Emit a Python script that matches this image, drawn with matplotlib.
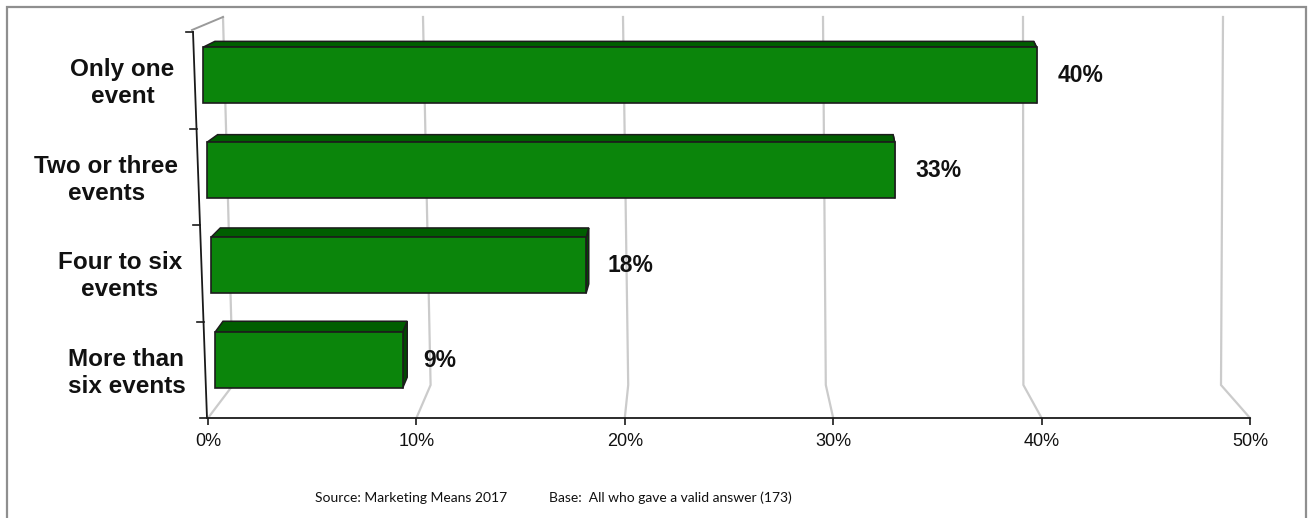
import matplotlib.pyplot as plt
from matplotlib.patches import Polygon, Rectangle

categories = ["More than\nsix events", "Four to six\nevents",
              "Two or three\nevents", "Only one\nevent"]
shares = [9, 18, 33, 40]
x_ticks = [0, 10, 20, 30, 40, 50]
tick_labels = [f"{t}%" for t in x_ticks]
source_note = "Source: Marketing Means 2017"
base_note = "Base:  All who gave a valid answer (173)"

W, H, DPI = 1308, 518, 100
fig = plt.figure(figsize=(W / DPI, H / DPI), dpi=DPI)

# plot box in pixels; the 3D look is faked with pixel offsets
X0, X1 = 208, 1250
Y_FLOOR, Y_TOP = 418, 15
ROW_PX = 96.5
XMAX = 50
YMAX = (Y_FLOOR - Y_TOP) / ROW_PX

ax = fig.add_axes([X0 / W, (H - Y_FLOOR) / H, (X1 - X0) / W, (Y_FLOOR - Y_TOP) / H])
ax.set_xlim(0, XMAX)
ax.set_ylim(0, YMAX)


def dx(px):
    return px * XMAX / (X1 - X0)


def dy(px):
    return px / ROW_PX


GRID = "#cbcbcb"
AXIS = "#1a1a1a"
FRONT = "#0b850b"
TOP = "#005e00"
SIDE = "#004a00"
EDGE = "#1c1c1c"
LABEL_FONT = "Liberation Sans"
NOTE_FONT = ["Lato", "Liberation Sans"]

# perspective gridlines: floor diagonal, then up the back wall
for t in x_ticks:
    bx = t + dx(25 - 1.08 * t)
    by = dy(33)
    tx = bx + dx(-10 + 0.24 * t)
    ax.plot([t, bx, tx], [0, by, dy(Y_FLOOR - 17)], color=GRID, lw=1.6,
            zorder=1, clip_on=False, solid_joinstyle="miter")

# left wall top edge and slanted category axis
ax.plot([dx(15), dx(-16)], [dy(Y_FLOOR - 17), dy(388)], color="#9a9a9a",
        lw=1.4, clip_on=False, zorder=1)


def axis_x(y):
    return dx(-1) + (y / 4) * (dx(-15) - dx(-1))


ax.plot([axis_x(0), axis_x(4)], [0, 4], color=AXIS, lw=1.3, clip_on=False, zorder=4)
for k in range(5):
    ax.plot([axis_x(k) - dx(7), axis_x(k)], [k, k], color=AXIS, lw=1.2,
            clip_on=False, zorder=4)

# bars with top and side faces
for r, (cat, v) in enumerate(zip(categories, shares)):
    yc = r + 0.5
    lean = dx(9 - 4 * yc)
    h = dy(56)
    y0 = yc - h / 2 + dy(9.5 - 1.5 * r)
    x0, x1 = lean, lean + v
    ddy = dy(11 - 1.7 * r)
    ddx0 = dx(8 + 1.3 * r)
    ddx1 = dx(8 + 1.3 * r - 0.37 * v)

    side = Polygon([(x1, y0), (x1, y0 + h), (x1 + ddx1, y0 + h + ddy), (x1 + ddx1, y0 + ddy)],
                   closed=True, fc=SIDE, ec=EDGE, lw=1.1, zorder=2, clip_on=False)
    top = Polygon([(x0, y0 + h), (x1, y0 + h), (x1 + ddx1, y0 + h + ddy), (x0 + ddx0, y0 + h + ddy)],
                  closed=True, fc=TOP, ec=EDGE, lw=1.1, zorder=2, clip_on=False)
    ax.add_patch(side)
    ax.add_patch(top)
    bars = ax.barh(y0 + h / 2, v, height=h, left=x0, color=FRONT, edgecolor=EDGE,
                   linewidth=1.2, zorder=3)
    for b in bars:
        b.set_clip_on(False)

    ax.annotate(f"{v}%", xy=(x1, y0 + h / 2), xytext=(21, 0), textcoords="offset pixels",
                ha="left", va="center", fontsize=16.5, fontweight="bold",
                family=LABEL_FONT, color="#111111", zorder=5)

    ax.text(axis_x(yc) - dx(20), yc - dy(3), cat, ha="right", va="center",
            multialignment="center", fontsize=17.5, fontweight="bold",
            family=LABEL_FONT, linespacing=1.2, color="#111111")

# value axis
for s in ["top", "right", "left"]:
    ax.spines[s].set_visible(False)
ax.spines["bottom"].set_color(AXIS)
ax.spines["bottom"].set_linewidth(1.3)
ax.spines["bottom"].set_zorder(4)
ax.set_xticks(x_ticks, tick_labels)
ax.set_yticks([])
ax.tick_params(axis="x", direction="out", length=5, width=1.2, color=AXIS,
               pad=6, labelsize=13, labelcolor="#111111")
for lbl in ax.get_xticklabels():
    lbl.set_family(LABEL_FONT)
ax.patch.set_alpha(0)

fig.text(411 / W, 1 - 498 / H, source_note, ha="center", va="center",
         fontsize=10, family=NOTE_FONT, color="#111111")
fig.text(670 / W, 1 - 498 / H, base_note, ha="center", va="center",
         fontsize=10, family=NOTE_FONT, color="#111111")

fig.add_artist(Rectangle((7 / W, -0.02), (1306 - 7) / W, (H - 7) / H + 0.02,
                         transform=fig.transFigure, fill=False, ec="#8f8f8f", lw=1.6))

fig.savefig("out.png", dpi=DPI)
